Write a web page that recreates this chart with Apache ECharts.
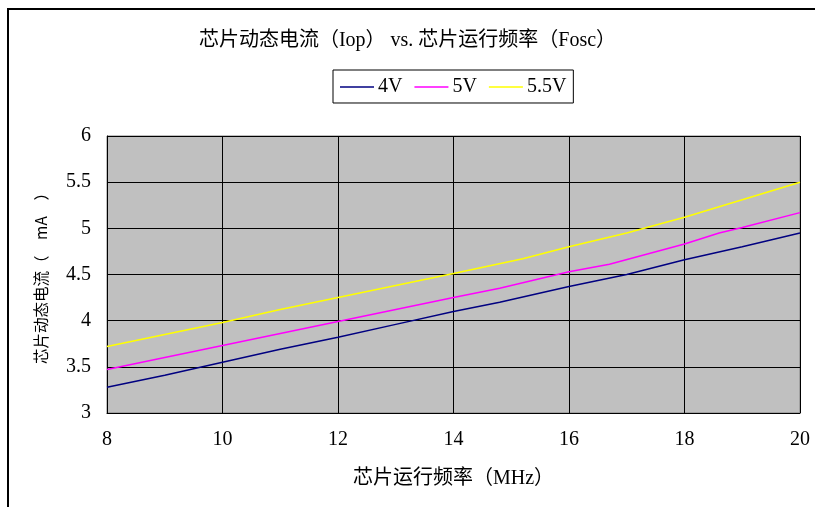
<!DOCTYPE html>
<html>
<head>
<meta charset="utf-8">
<script src="https://cdn.jsdelivr.net/npm/echarts@6/dist/echarts.min.js"></script>
<style>html,body{margin:0;padding:0;background:#fff}#c{width:815px;height:507px}</style>
</head>
<body>
<div id="c"></div>
<script>
var title = '芯片动态电流（Iop） vs. 芯片运行频率（Fosc）';
var xName = '芯片运行频率（MHz）';
var yName = '芯片动态电流（　mA　）';
var seriesNames = ['4V', '5V', '5.5V'];
var seriesColors = ['#000080', '#FF00FF', '#FFFF00'];
var freq4V = [8, 9, 10, 11, 12, 13, 14, 14.8, 16, 17, 18, 19, 20];
var iop4V = [3.28, 3.41, 3.55, 3.69, 3.82, 3.96, 4.10, 4.20, 4.37, 4.50, 4.66, 4.80, 4.95];
var freq5V = [8, 9, 10, 11, 12, 13, 14, 14.8, 16, 16.7, 18, 18.6, 19, 20];
var iop5V = [3.47, 3.60, 3.73, 3.86, 3.99, 4.12, 4.25, 4.35, 4.53, 4.61, 4.83, 4.95, 5.01, 5.17];
var freq55V = [8, 9, 10, 11, 12, 13, 14, 15.2, 16, 17, 18, 19, 20];
var iop55V = [3.72, 3.85, 3.98, 4.12, 4.25, 4.38, 4.51, 4.67, 4.80, 4.95, 5.12, 5.31, 5.50];
var xTicks = [8, 10, 12, 14, 16, 18, 20];
var yTicks = [3, 3.5, 4, 4.5, 5, 5.5, 6];

function pairs(xs, ys) { return xs.map(function (x, i) { return [x, ys[i]]; }); }
var allData = [pairs(freq4V, iop4V), pairs(freq5V, iop5V), pairs(freq55V, iop55V)];

var serif = '"Liberation Serif", "Times New Roman", "Noto Sans CJK SC", serif';
var chart = echarts.init(document.getElementById('c'), null, {renderer: 'canvas'});
chart.setOption({
  animation: false,
  backgroundColor: '#fff',
  graphic: [{
    type: 'rect', silent: true,
    shape: {x: 8, y: 9, width: 900, height: 600},
    style: {fill: 'none', stroke: '#000', lineWidth: 2}
  }],
  title: {
    text: title, left: 'center', top: 26,
    textStyle: {fontFamily: serif, fontSize: 20, fontWeight: 'normal', color: '#000'}
  },
  legend: {
    data: seriesNames, left: 333, top: 70,
    borderColor: '#000', borderWidth: 1, padding: [7, 7, 6, 7],
    icon: 'rect', itemWidth: 34, itemHeight: 1.5, itemGap: 12,
    textStyle: {fontFamily: serif, fontSize: 20, color: '#000', padding: [0, 0, 0, -1]}
  },
  grid: {left: 107, right: 15, top: 136, bottom: 94, show: true, backgroundColor: '#C0C0C0', borderColor: '#808080', borderWidth: 1},
  xAxis: {
    type: 'value', min: 8, max: 20, interval: 2,
    name: xName, nameLocation: 'middle', nameGap: 56,
    nameTextStyle: {fontFamily: serif, fontSize: 20, color: '#000'},
    axisLine: {show: true, onZero: false, lineStyle: {color: '#000', width: 1}},
    axisTick: {show: true, inside: true, length: 4, lineStyle: {color: '#000'}},
    axisLabel: {fontFamily: serif, fontSize: 20, color: '#000', margin: 17,
      formatter: function (v) { return xTicks.indexOf(v) >= 0 ? String(v) : ''; }},
    splitLine: {show: true, lineStyle: {color: '#000', width: 1}}
  },
  yAxis: {
    type: 'value', min: 3, max: 6, interval: 0.5,
    name: yName, nameLocation: 'middle', nameGap: 58, nameRotate: 90,
    nameTextStyle: {fontFamily: '"Noto Sans CJK SC", sans-serif', fontSize: 15.5, color: '#000'},
    axisLine: {show: true, onZero: false, lineStyle: {color: '#000', width: 1}},
    axisTick: {show: true, inside: true, length: 6, lineStyle: {color: '#000'}},
    axisLabel: {fontFamily: serif, fontSize: 20, color: '#000', margin: 16,
      formatter: function (v) { return yTicks.indexOf(v) >= 0 ? String(v) : ''; }},
    splitLine: {show: true, lineStyle: {color: '#000', width: 1}}
  },
  series: seriesNames.map(function (n, i) {
    return {
      name: n, type: 'line', data: allData[i], symbol: 'none', showSymbol: false,
      lineStyle: {color: seriesColors[i], width: 1.5}, itemStyle: {color: seriesColors[i]}
    };
  })
});
</script>
</body>
</html>
